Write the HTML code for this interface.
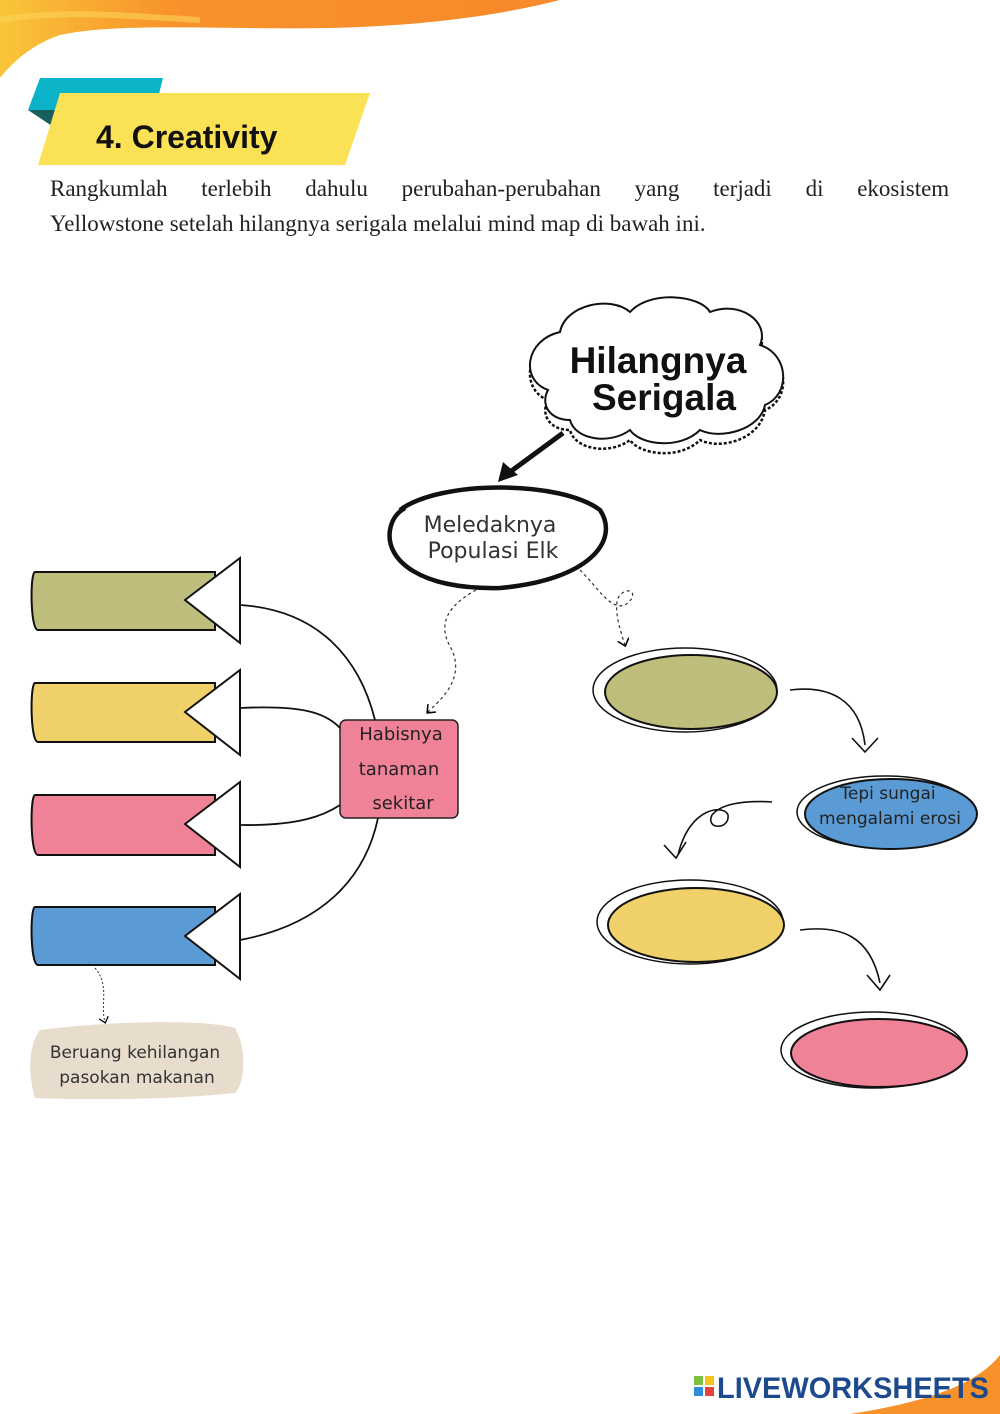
<!DOCTYPE html>
<html><head><meta charset="utf-8"><style>
body{margin:0;width:1000px;height:1414px;background:#fff;overflow:hidden}
svg{display:block}
</style></head><body>
<svg width="1000" height="1414" viewBox="0 0 1000 1414" xmlns="http://www.w3.org/2000/svg">
<defs>
<linearGradient id="og" x1="0" x2="1"><stop offset="0" stop-color="#f9c53a"/><stop offset="0.3" stop-color="#f7932a"/><stop offset="1" stop-color="#f7892a"/></linearGradient>
<marker id="ah" markerWidth="10" markerHeight="10" refX="5" refY="5" orient="auto"><path d="M0,0 L6,5 L0,10" fill="none" stroke="#000" stroke-width="1.3"/></marker>
</defs>
<path d="M0,0 H560 C520,10 450,25 330,28 C220,30 120,22 60,35 C30,45 10,65 0,78 Z" fill="url(#og)"/>
<path d="M0,20 C60,10 120,15 200,20" stroke="#fbd35a" stroke-width="6" fill="none" opacity="0.6"/>
<path d="M1000,1355 C980,1380 940,1400 850,1414 H1000 Z" fill="#f7922a"/>
<polygon points="40,78 163,78 155,110 28,110" fill="#0bb3c9"/>
<polygon points="28,110 55,110 55,128" fill="#1b5e5e"/>
<polygon points="60,93 370,93 345,165 38,165" fill="#fbe155"/>
<text x="96" y="148" font-family="Liberation Sans,sans-serif" font-weight="bold" font-size="32" fill="#111">4. Creativity</text>
<text font-family="Liberation Serif,serif" font-size="23" fill="#222" word-spacing="28"><tspan x="50" y="196">Rangkumlah terlebih dahulu perubahan-perubahan yang terjadi di ekosistem</tspan></text>
<text font-family="Liberation Serif,serif" font-size="23" fill="#222"><tspan x="50" y="231">Yellowstone setelah hilangnya serigala melalui mind map di bawah ini.</tspan></text>
<path d="M548,400 C520,390 525,345 560,340 C565,310 610,300 630,318 C650,295 700,300 710,318 C740,305 770,330 760,350 C790,360 790,400 765,410 C760,440 720,450 700,440 C680,460 640,455 630,440 C610,455 575,450 570,430 C550,430 540,415 548,400 Z" fill="#fff" stroke="#111" stroke-width="2.5" stroke-dasharray="3,2"/>
<path d="M548,390 C520,380 525,340 560,332 C565,305 610,295 630,312 C650,290 700,295 710,312 C740,300 770,322 760,345 C790,355 790,395 765,405 C760,430 720,440 700,430 C680,450 640,445 630,430 C610,445 575,440 570,420 C550,420 540,405 548,390 Z" fill="#fff" stroke="#111" stroke-width="2"/>
<text x="658" y="373" text-anchor="middle" font-family="Liberation Sans,sans-serif" font-weight="bold" font-size="37" fill="#111">Hilangnya</text>
<text x="664" y="410" text-anchor="middle" font-family="Liberation Sans,sans-serif" font-weight="bold" font-size="37" fill="#111">Serigala</text>
<line x1="563" y1="433" x2="510" y2="472" stroke="#111" stroke-width="5"/>
<polygon points="498,482 503,462 518,475" fill="#111"/>
<path d="M400,510 C440,480 560,480 600,510 C620,540 590,580 500,588 C420,590 385,560 390,530 C392,518 398,512 405,508" fill="#fff" stroke="#111" stroke-width="4.5"/>
<text x="490" y="532" text-anchor="middle" font-family="DejaVu Sans,sans-serif" font-size="22" fill="#333">Meledaknya</text>
<text x="493" y="558" text-anchor="middle" font-family="DejaVu Sans,sans-serif" font-size="22" fill="#333">Populasi Elk</text>
<path d="M476,590 C440,610 440,630 452,650 C465,680 440,700 428,712" fill="none" stroke="#333" stroke-width="1.2" stroke-dasharray="3,3" marker-end="url(#ah)"/>
<path d="M580,570 C600,590 610,610 625,605 C640,595 630,585 620,595 C612,605 620,630 625,645" fill="none" stroke="#333" stroke-width="1.2" stroke-dasharray="3,3" marker-end="url(#ah)"/>
<rect x="340" y="720" width="118" height="98" rx="6" fill="#f08298" stroke="#222" stroke-width="1.5"/>
<text font-family="DejaVu Sans,sans-serif" font-size="18" fill="#222" text-anchor="middle"><tspan x="401" y="740">Habisnya</tspan><tspan x="399" y="775">tanaman</tspan><tspan x="403" y="809">sekitar</tspan></text>
<g fill="none" stroke="#111" stroke-width="1.8">
<path d="M240,605 C320,610 360,660 375,720"/>
<path d="M240,708 C300,705 325,712 340,728"/>
<path d="M240,825 C300,826 325,815 340,805"/>
<path d="M240,940 C320,925 365,880 378,818"/>
</g>
<g stroke="#111" stroke-width="2">
<path d="M35,572 H215 V630 H38 C30,630 30,572 35,572Z" fill="#bfbd7c"/>
<path d="M35,683 H215 V742 H38 C30,742 30,683 35,683Z" fill="#f0d068"/>
<path d="M35,795 H215 V855 H38 C30,855 30,795 35,795Z" fill="#f08298"/>
<path d="M35,907 H215 V965 H38 C30,965 30,907 35,907Z" fill="#5b9bd5"/>
<polygon points="185,600 240,558 240,643" fill="#fff"/>
<polygon points="185,712 240,670 240,755" fill="#fff"/>
<polygon points="185,824 240,782 240,867" fill="#fff"/>
<polygon points="185,936 240,894 240,979" fill="#fff"/>
</g>
<path d="M95,968 C110,985 100,1005 105,1022" fill="none" stroke="#333" stroke-width="1" stroke-dasharray="2,2" marker-end="url(#ah)"/>
<path d="M40,1030 C100,1022 200,1018 235,1028 C248,1050 244,1085 235,1093 C170,1100 90,1100 35,1098 C28,1075 28,1045 40,1030Z" fill="#e8dccd"/>
<text font-family="DejaVu Sans,sans-serif" font-size="17" fill="#333" text-anchor="middle"><tspan x="135" y="1058">Beruang kehilangan</tspan><tspan x="137" y="1083">pasokan makanan</tspan></text>
<g stroke="#111" stroke-width="2">
<ellipse cx="685" cy="690" rx="92" ry="42" fill="#fff" stroke-width="1.5"/>
<ellipse cx="691" cy="692" rx="86" ry="37" fill="#bfbd7c"/>
<ellipse cx="885" cy="812" rx="88" ry="36" fill="#fff" stroke-width="1.5"/>
<ellipse cx="891" cy="814" rx="86" ry="35" fill="#5b9bd5"/>
<ellipse cx="690" cy="922" rx="93" ry="42" fill="#fff" stroke-width="1.5"/>
<ellipse cx="696" cy="925" rx="88" ry="37" fill="#f0d068"/>
<ellipse cx="873" cy="1050" rx="92" ry="38" fill="#fff" stroke-width="1.5"/>
<ellipse cx="879" cy="1053" rx="88" ry="34" fill="#f08298"/>
</g>
<text font-family="DejaVu Sans,sans-serif" font-size="17" fill="#222" text-anchor="middle"><tspan x="888" y="799">Tepi sungai</tspan><tspan x="890" y="824">mengalami erosi</tspan></text>
<g fill="none" stroke="#111" stroke-width="1.6">
<path d="M790,690 C830,685 860,700 865,745"/>
<path d="M852,738 L865,752 L878,738"/>
<path d="M772,802 C740,800 720,805 712,815 C705,830 730,830 728,815 C725,805 690,805 678,855"/>
<path d="M664,845 L676,858 L686,842"/>
<path d="M800,930 C840,925 870,935 880,983"/>
<path d="M867,975 L880,990 L890,975"/>
</g>
<rect x="694" y="1376" width="9" height="9" fill="#7cc242"/><rect x="705" y="1376" width="9" height="9" fill="#f7c21b"/>
<rect x="694" y="1387" width="9" height="9" fill="#2e8fd8"/><rect x="705" y="1387" width="9" height="9" fill="#e8403a"/>
<text x="717" y="1398" font-family="Liberation Sans,sans-serif" font-weight="bold" font-size="30" fill="#1d4a8c" textLength="272" lengthAdjust="spacingAndGlyphs">LIVEWORKSHEETS</text>
</svg>
</body></html>
